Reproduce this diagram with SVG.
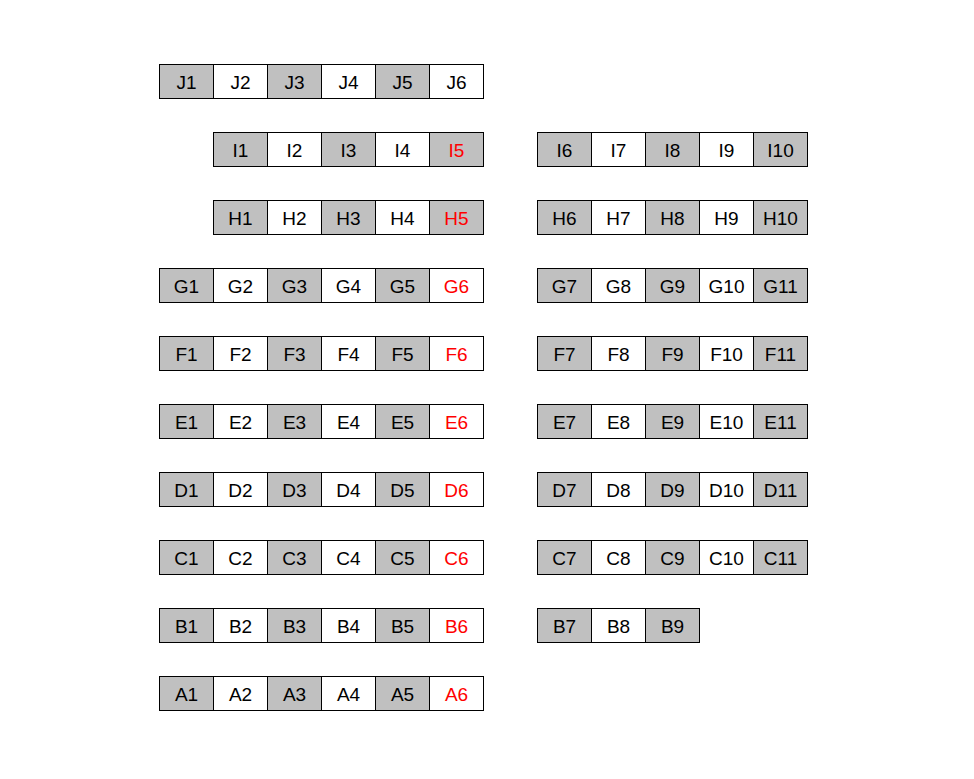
<svg xmlns="http://www.w3.org/2000/svg" width="974" height="779" viewBox="0 0 974 779">
<style>
.g,.w{stroke:#000;stroke-width:1}
.g{fill:#c0c0c0}.w{fill:#fff}
text{font-family:"Liberation Sans",Arial,sans-serif;font-size:19px;text-anchor:middle;fill:#000}
.r{fill:#ff0000}
</style>
<rect width="974" height="779" fill="#fff"/>
<g id="J">
<rect class="g" x="159.5" y="64.5" width="54" height="34"/><text x="186.5" y="88.5">J1</text>
<rect class="w" x="213.5" y="64.5" width="54" height="34"/><text x="240.5" y="88.5">J2</text>
<rect class="g" x="267.5" y="64.5" width="54" height="34"/><text x="294.5" y="88.5">J3</text>
<rect class="w" x="321.5" y="64.5" width="54" height="34"/><text x="348.5" y="88.5">J4</text>
<rect class="g" x="375.5" y="64.5" width="54" height="34"/><text x="402.5" y="88.5">J5</text>
<rect class="w" x="429.5" y="64.5" width="54" height="34"/><text x="456.5" y="88.5">J6</text>
</g>
<g id="I">
<rect class="g" x="213.5" y="132.5" width="54" height="34"/><text x="240.5" y="156.5">I1</text>
<rect class="w" x="267.5" y="132.5" width="54" height="34"/><text x="294.5" y="156.5">I2</text>
<rect class="g" x="321.5" y="132.5" width="54" height="34"/><text x="348.5" y="156.5">I3</text>
<rect class="w" x="375.5" y="132.5" width="54" height="34"/><text x="402.5" y="156.5">I4</text>
<rect class="g" x="429.5" y="132.5" width="54" height="34"/><text class="r" x="456.5" y="156.5">I5</text>
<rect class="g" x="537.5" y="132.5" width="54" height="34"/><text x="564.5" y="156.5">I6</text>
<rect class="w" x="591.5" y="132.5" width="54" height="34"/><text x="618.5" y="156.5">I7</text>
<rect class="g" x="645.5" y="132.5" width="54" height="34"/><text x="672.5" y="156.5">I8</text>
<rect class="w" x="699.5" y="132.5" width="54" height="34"/><text x="726.5" y="156.5">I9</text>
<rect class="g" x="753.5" y="132.5" width="54" height="34"/><text x="780.5" y="156.5">I10</text>
</g>
<g id="H">
<rect class="g" x="213.5" y="200.5" width="54" height="34"/><text x="240.5" y="224.5">H1</text>
<rect class="w" x="267.5" y="200.5" width="54" height="34"/><text x="294.5" y="224.5">H2</text>
<rect class="g" x="321.5" y="200.5" width="54" height="34"/><text x="348.5" y="224.5">H3</text>
<rect class="w" x="375.5" y="200.5" width="54" height="34"/><text x="402.5" y="224.5">H4</text>
<rect class="g" x="429.5" y="200.5" width="54" height="34"/><text class="r" x="456.5" y="224.5">H5</text>
<rect class="g" x="537.5" y="200.5" width="54" height="34"/><text x="564.5" y="224.5">H6</text>
<rect class="w" x="591.5" y="200.5" width="54" height="34"/><text x="618.5" y="224.5">H7</text>
<rect class="g" x="645.5" y="200.5" width="54" height="34"/><text x="672.5" y="224.5">H8</text>
<rect class="w" x="699.5" y="200.5" width="54" height="34"/><text x="726.5" y="224.5">H9</text>
<rect class="g" x="753.5" y="200.5" width="54" height="34"/><text x="780.5" y="224.5">H10</text>
</g>
<g id="G">
<rect class="g" x="159.5" y="268.5" width="54" height="34"/><text x="186.5" y="292.5">G1</text>
<rect class="w" x="213.5" y="268.5" width="54" height="34"/><text x="240.5" y="292.5">G2</text>
<rect class="g" x="267.5" y="268.5" width="54" height="34"/><text x="294.5" y="292.5">G3</text>
<rect class="w" x="321.5" y="268.5" width="54" height="34"/><text x="348.5" y="292.5">G4</text>
<rect class="g" x="375.5" y="268.5" width="54" height="34"/><text x="402.5" y="292.5">G5</text>
<rect class="w" x="429.5" y="268.5" width="54" height="34"/><text class="r" x="456.5" y="292.5">G6</text>
<rect class="g" x="537.5" y="268.5" width="54" height="34"/><text x="564.5" y="292.5">G7</text>
<rect class="w" x="591.5" y="268.5" width="54" height="34"/><text x="618.5" y="292.5">G8</text>
<rect class="g" x="645.5" y="268.5" width="54" height="34"/><text x="672.5" y="292.5">G9</text>
<rect class="w" x="699.5" y="268.5" width="54" height="34"/><text x="726.5" y="292.5">G10</text>
<rect class="g" x="753.5" y="268.5" width="54" height="34"/><text x="780.5" y="292.5">G11</text>
</g>
<g id="F">
<rect class="g" x="159.5" y="336.5" width="54" height="34"/><text x="186.5" y="360.5">F1</text>
<rect class="w" x="213.5" y="336.5" width="54" height="34"/><text x="240.5" y="360.5">F2</text>
<rect class="g" x="267.5" y="336.5" width="54" height="34"/><text x="294.5" y="360.5">F3</text>
<rect class="w" x="321.5" y="336.5" width="54" height="34"/><text x="348.5" y="360.5">F4</text>
<rect class="g" x="375.5" y="336.5" width="54" height="34"/><text x="402.5" y="360.5">F5</text>
<rect class="w" x="429.5" y="336.5" width="54" height="34"/><text class="r" x="456.5" y="360.5">F6</text>
<rect class="g" x="537.5" y="336.5" width="54" height="34"/><text x="564.5" y="360.5">F7</text>
<rect class="w" x="591.5" y="336.5" width="54" height="34"/><text x="618.5" y="360.5">F8</text>
<rect class="g" x="645.5" y="336.5" width="54" height="34"/><text x="672.5" y="360.5">F9</text>
<rect class="w" x="699.5" y="336.5" width="54" height="34"/><text x="726.5" y="360.5">F10</text>
<rect class="g" x="753.5" y="336.5" width="54" height="34"/><text x="780.5" y="360.5">F11</text>
</g>
<g id="E">
<rect class="g" x="159.5" y="404.5" width="54" height="34"/><text x="186.5" y="428.5">E1</text>
<rect class="w" x="213.5" y="404.5" width="54" height="34"/><text x="240.5" y="428.5">E2</text>
<rect class="g" x="267.5" y="404.5" width="54" height="34"/><text x="294.5" y="428.5">E3</text>
<rect class="w" x="321.5" y="404.5" width="54" height="34"/><text x="348.5" y="428.5">E4</text>
<rect class="g" x="375.5" y="404.5" width="54" height="34"/><text x="402.5" y="428.5">E5</text>
<rect class="w" x="429.5" y="404.5" width="54" height="34"/><text class="r" x="456.5" y="428.5">E6</text>
<rect class="g" x="537.5" y="404.5" width="54" height="34"/><text x="564.5" y="428.5">E7</text>
<rect class="w" x="591.5" y="404.5" width="54" height="34"/><text x="618.5" y="428.5">E8</text>
<rect class="g" x="645.5" y="404.5" width="54" height="34"/><text x="672.5" y="428.5">E9</text>
<rect class="w" x="699.5" y="404.5" width="54" height="34"/><text x="726.5" y="428.5">E10</text>
<rect class="g" x="753.5" y="404.5" width="54" height="34"/><text x="780.5" y="428.5">E11</text>
</g>
<g id="D">
<rect class="g" x="159.5" y="472.5" width="54" height="34"/><text x="186.5" y="496.5">D1</text>
<rect class="w" x="213.5" y="472.5" width="54" height="34"/><text x="240.5" y="496.5">D2</text>
<rect class="g" x="267.5" y="472.5" width="54" height="34"/><text x="294.5" y="496.5">D3</text>
<rect class="w" x="321.5" y="472.5" width="54" height="34"/><text x="348.5" y="496.5">D4</text>
<rect class="g" x="375.5" y="472.5" width="54" height="34"/><text x="402.5" y="496.5">D5</text>
<rect class="w" x="429.5" y="472.5" width="54" height="34"/><text class="r" x="456.5" y="496.5">D6</text>
<rect class="g" x="537.5" y="472.5" width="54" height="34"/><text x="564.5" y="496.5">D7</text>
<rect class="w" x="591.5" y="472.5" width="54" height="34"/><text x="618.5" y="496.5">D8</text>
<rect class="g" x="645.5" y="472.5" width="54" height="34"/><text x="672.5" y="496.5">D9</text>
<rect class="w" x="699.5" y="472.5" width="54" height="34"/><text x="726.5" y="496.5">D10</text>
<rect class="g" x="753.5" y="472.5" width="54" height="34"/><text x="780.5" y="496.5">D11</text>
</g>
<g id="C">
<rect class="g" x="159.5" y="540.5" width="54" height="34"/><text x="186.5" y="564.5">C1</text>
<rect class="w" x="213.5" y="540.5" width="54" height="34"/><text x="240.5" y="564.5">C2</text>
<rect class="g" x="267.5" y="540.5" width="54" height="34"/><text x="294.5" y="564.5">C3</text>
<rect class="w" x="321.5" y="540.5" width="54" height="34"/><text x="348.5" y="564.5">C4</text>
<rect class="g" x="375.5" y="540.5" width="54" height="34"/><text x="402.5" y="564.5">C5</text>
<rect class="w" x="429.5" y="540.5" width="54" height="34"/><text class="r" x="456.5" y="564.5">C6</text>
<rect class="g" x="537.5" y="540.5" width="54" height="34"/><text x="564.5" y="564.5">C7</text>
<rect class="w" x="591.5" y="540.5" width="54" height="34"/><text x="618.5" y="564.5">C8</text>
<rect class="g" x="645.5" y="540.5" width="54" height="34"/><text x="672.5" y="564.5">C9</text>
<rect class="w" x="699.5" y="540.5" width="54" height="34"/><text x="726.5" y="564.5">C10</text>
<rect class="g" x="753.5" y="540.5" width="54" height="34"/><text x="780.5" y="564.5">C11</text>
</g>
<g id="B">
<rect class="g" x="159.5" y="608.5" width="54" height="34"/><text x="186.5" y="632.5">B1</text>
<rect class="w" x="213.5" y="608.5" width="54" height="34"/><text x="240.5" y="632.5">B2</text>
<rect class="g" x="267.5" y="608.5" width="54" height="34"/><text x="294.5" y="632.5">B3</text>
<rect class="w" x="321.5" y="608.5" width="54" height="34"/><text x="348.5" y="632.5">B4</text>
<rect class="g" x="375.5" y="608.5" width="54" height="34"/><text x="402.5" y="632.5">B5</text>
<rect class="w" x="429.5" y="608.5" width="54" height="34"/><text class="r" x="456.5" y="632.5">B6</text>
<rect class="g" x="537.5" y="608.5" width="54" height="34"/><text x="564.5" y="632.5">B7</text>
<rect class="w" x="591.5" y="608.5" width="54" height="34"/><text x="618.5" y="632.5">B8</text>
<rect class="g" x="645.5" y="608.5" width="54" height="34"/><text x="672.5" y="632.5">B9</text>
</g>
<g id="A">
<rect class="g" x="159.5" y="676.5" width="54" height="34"/><text x="186.5" y="700.5">A1</text>
<rect class="w" x="213.5" y="676.5" width="54" height="34"/><text x="240.5" y="700.5">A2</text>
<rect class="g" x="267.5" y="676.5" width="54" height="34"/><text x="294.5" y="700.5">A3</text>
<rect class="w" x="321.5" y="676.5" width="54" height="34"/><text x="348.5" y="700.5">A4</text>
<rect class="g" x="375.5" y="676.5" width="54" height="34"/><text x="402.5" y="700.5">A5</text>
<rect class="w" x="429.5" y="676.5" width="54" height="34"/><text class="r" x="456.5" y="700.5">A6</text>
</g>
<g id="connectors"/>
</svg>
